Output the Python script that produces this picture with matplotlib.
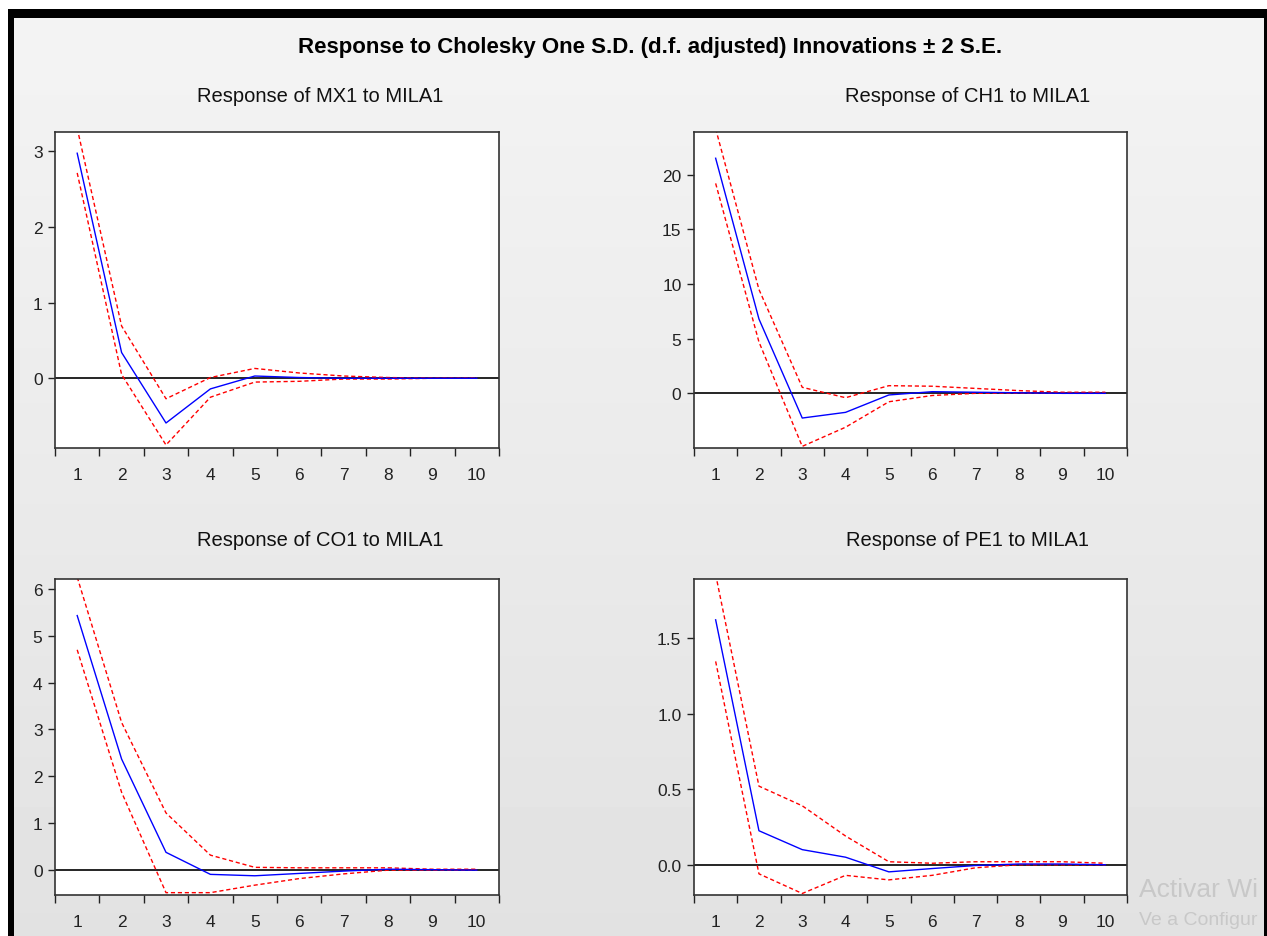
#!/usr/bin/env python3
# encoding: utf-8
"""
impulse responses to MILA1 shock, EViews style 2x2 panel
"""
import numpy as np
import matplotlib
matplotlib.use("Agg")
from matplotlib import pyplot as plt
from matplotlib.patches import Rectangle

plt.rcParams['font.family'] = ['Liberation Sans', 'DejaVu Sans']

periods = [1, 2, 3, 4, 5, 6, 7, 8, 9, 10]

# MX1
mx1_resp = [2.97, 0.34, -0.59, -0.14, 0.03, 0.01, 0.0, 0.0, 0.0, 0.0]
mx1_up = [3.30, 0.69, -0.27, 0.01, 0.13, 0.07, 0.03, 0.01, 0.0, 0.0]
mx1_lo = [2.71, 0.05, -0.88, -0.25, -0.05, -0.04, -0.01, -0.01, 0.0, 0.0]

# CH1
ch1_resp = [21.5, 6.8, -2.26, -1.74, -0.15, 0.15, 0.10, 0.05, 0.0, 0.0]
ch1_up = [24.2, 9.5, 0.55, -0.4, 0.70, 0.65, 0.45, 0.25, 0.10, 0.10]
ch1_lo = [19.2, 4.7, -4.85, -3.1, -0.77, -0.20, 0.0, 0.02, 0.0, 0.0]

# CO1
co1_resp = [5.43, 2.37, 0.38, -0.09, -0.12, -0.07, -0.02, 0.02, 0.01, 0.0]
co1_up = [6.25, 3.15, 1.22, 0.32, 0.06, 0.05, 0.05, 0.05, 0.02, 0.02]
co1_lo = [4.70, 1.66, -0.48, -0.48, -0.32, -0.18, -0.08, 0.0, 0.0, 0.0]

# PE1
pe1_resp = [1.62, 0.225, 0.10, 0.05, -0.047, -0.025, -0.005, 0.005, 0.005, 0.0]
pe1_up = [1.92, 0.52, 0.39, 0.19, 0.02, 0.01, 0.02, 0.02, 0.02, 0.01]
pe1_lo = [1.345, -0.06, -0.19, -0.07, -0.10, -0.07, -0.02, 0.0, 0.0, 0.0]

titles = ["Response of MX1 to MILA1", "Response of CH1 to MILA1",
          "Response of CO1 to MILA1", "Response of PE1 to MILA1"]

W, H = 1267, 937
fig = plt.figure(figsize=(W / 100, H / 100), dpi=100, facecolor='white')


def px(x0, y0, x1, y1):
    # pixel box -> figure fraction rect
    return [x0 / W, 1 - y1 / H, (x1 - x0) / W, (y1 - y0) / H]


# grey gradient background with the window frame
bg = fig.add_axes(px(14, 18, 1265, 937))
grad = np.linspace(0.955, 0.885, 200).reshape(-1, 1)
bg.imshow(grad, cmap='gray', vmin=0, vmax=1, aspect='auto', extent=[0, 1, 0, 1])
bg.set_axis_off()
fig.patches.append(Rectangle((8 / W, 0), 6 / W, 1 - 10 / H, transform=fig.transFigure,
                             facecolor='black', edgecolor='none'))
fig.patches.append(Rectangle((8 / W, 1 - 19 / H), 1 - 8 / W, 9 / H, transform=fig.transFigure,
                             facecolor='black', edgecolor='none'))
fig.patches.append(Rectangle((1264 / W, 0), 3 / W, 1 - 10 / H, transform=fig.transFigure,
                             facecolor='black', edgecolor='none'))

fig.text(650 / W, 1 - 47 / H, "Response to Cholesky One S.D. (d.f. adjusted) Innovations \u00b1 2 S.E.",
         ha='center', va='center', fontsize=16, fontweight='bold')

boxes = [(55, 133, 499, 449), (694, 133, 1127, 449),
         (55, 580, 499, 896), (694, 580, 1127, 896)]
title_pos = [(320, 96), (968, 96), (320, 541), (968, 541)]
ylims = [(-0.92, 3.25), (-5.0, 23.9), (-0.53, 6.21), (-0.2, 1.89)]
yticks = [[0, 1, 2, 3], [0, 5, 10, 15, 20], [0, 1, 2, 3, 4, 5, 6], [0.0, 0.5, 1.0, 1.5]]
yfmt = ["%d", "%d", "%d", "%.1f"]
series = [(mx1_resp, mx1_up, mx1_lo), (ch1_resp, ch1_up, ch1_lo),
          (co1_resp, co1_up, co1_lo), (pe1_resp, pe1_up, pe1_lo)]

for i in range(4):
    ax = fig.add_axes(px(*boxes[i]))
    resp, up, lo = series[i]
    ax.axhline(0, color='black', lw=1.2, zorder=1)
    ax.plot(periods, up, color='red', lw=1, linestyle=(0, (3, 2)), zorder=2)
    ax.plot(periods, lo, color='red', lw=1, linestyle=(0, (3, 2)), zorder=2)
    ax.plot(periods, resp, color='blue', lw=1, zorder=3)
    ax.set_xlim(0.5, 10.5)
    ax.set_ylim(*ylims[i])
    ax.set_xticks(periods)
    ax.set_xticklabels([str(p) for p in periods])
    ax.set_xticks(np.arange(0.5, 11, 1), minor=True)
    ax.tick_params(axis='x', which='major', length=0, pad=14, labelsize=12.5, labelcolor='#222222')
    ax.tick_params(axis='x', which='minor', direction='out', length=6, width=1, color='#222222')
    ax.set_yticks(yticks[i])
    ax.set_yticklabels([yfmt[i] % v for v in yticks[i]])
    ax.tick_params(axis='y', direction='out', length=5, width=1, pad=4, labelsize=12.5,
                   color='#222222', labelcolor='#222222')
    for s in ax.spines.values():
        s.set_color('#333333')
        s.set_linewidth(1.2)
    fig.text(title_pos[i][0] / W, 1 - title_pos[i][1] / H, titles[i],
             ha='center', va='center', fontsize=14.5, color='#111111')

# windows activation watermark (cut by the screenshot edge)
fig.text(1139 / W, 1 - 890 / H, "Activar Wi", ha='left', va='center', fontsize=19,
         color='#c8c8c8')
fig.text(1139 / W, 1 - 921 / H, "Ve a Configur", ha='left', va='center', fontsize=14,
         color='#c8c8c8')

plt.savefig("out.png", dpi=100)
plt.close()
